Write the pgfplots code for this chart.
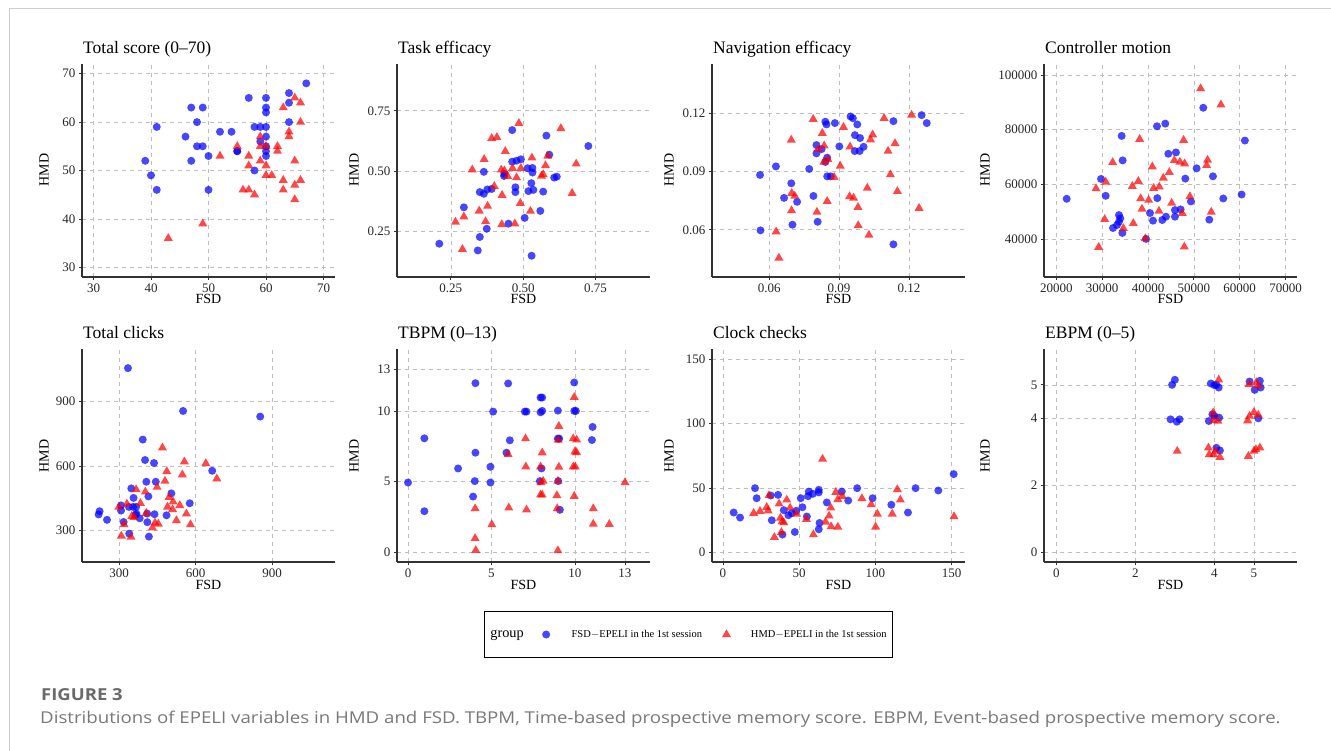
\documentclass[border=0pt]{standalone}
\usepackage{fontspec}
\setmainfont{Liberation Serif}
\newfontfamily\capfont{Open Sans}
\usepackage{pgfplots}
\pgfplotsset{compat=1.18}

\definecolor{axisgray}{RGB}{50,50,50}
\definecolor{gridgray}{RGB}{190,190,190}
\definecolor{framegray}{RGB}{205,205,205}
\definecolor{capgray}{RGB}{105,105,105}
\definecolor{capgraylight}{RGB}{120,120,120}

\pgfplotsset{
  panel/.style={
    scale only axis, width=253pt, height=213pt, anchor=south west,
    axis lines*=left,
    axis line style={line width=1.3pt, axisgray},
    tick align=outside, major tick length=3pt,
    tick style={line width=0.8pt, axisgray},
    grid=major,
    major grid style={dash pattern=on 4pt off 4pt, line width=0.6pt, gridgray},
    tick label style={font=\fontsize{13}{13}\selectfont, text=black!85},
    /pgf/number format/assume math mode=true,
    /pgf/number format/fixed,
    /pgf/number format/1000 sep={},
    scaled ticks=false,
  },
  dec2/.style={
    xticklabel style={/pgf/number format/.cd, fixed, fixed zerofill, precision=2},
    yticklabel style={/pgf/number format/.cd, fixed, fixed zerofill, precision=2},
  },
  fsd/.style={only marks, blue, mark=*, mark size=4pt,
    mark options={draw=blue, draw opacity=0, fill=blue, fill opacity=0.72},
    legend image code/.code={\path (0pt,0pt) (35pt,0pt);
      \draw[mark repeat=2,mark phase=2,##1] plot coordinates {(0pt,0pt) (12pt,0pt) (24pt,0pt)};}},
  hmd/.style={only marks, red, mark=triangle*, mark size=5.2pt,
    mark options={draw=red, draw opacity=0, fill=red, fill opacity=0.72},
    legend image code/.code={\path (0pt,0pt) (36pt,0pt);
      \draw[mark repeat=2,mark phase=2,##1] plot coordinates {(0pt,0pt) (14pt,0pt) (28pt,0pt)};}},
}

\begin{document}
\begin{tikzpicture}
\useasboundingbox (0pt,0pt) rectangle (1331pt,-751pt);
\draw[framegray, line width=0.8pt] (9pt,-751pt) -- (9pt,-8pt) -- (1331pt,-8pt);

% ---------- row 1 ----------
\begin{axis}[panel, at={(82pt,-277pt)},
  xmin=28, xmax=72, ymin=28, ymax=72,
  xtick={30,40,50,60,70}, ytick={30,40,50,60,70}]
\addplot[fsd] coordinates {
(39,52) (40,49) (41,59) (41,46) (46,57) (47,63) (47,52) (48,60) (48,55)
(49,63) (49,55) (50,53) (50,46) (52,58) (54,58) (55,54) (55,54) (57,65)
(58,59) (58,50) (59,59) (59,56) (60,65) (60,63) (60,62) (60,59) (60,57)
(60,55) (60,54) (60,53) (64,66) (64,64) (64,60) (67,68)};
\addplot[hmd] coordinates {
(43,36) (49,39) (52,53) (55,55) (56,46) (57,46) (57,53) (57,51) (58,45)
(59,57) (59,55) (59,52) (60,55) (60,51) (60,49) (61,49) (62,55) (62,54)
(63,63) (63,48) (63,46) (64,58) (64,57) (65,65) (65,52) (65,47) (65,44)
(66,64) (66,60) (66,48)};
\end{axis}

\begin{axis}[panel, dec2, at={(397pt,-277pt)},
  xmin=0.064, xmax=0.938, ymin=0.061, ymax=0.944,
  xtick={0.25,0.5,0.75}, ytick={0.25,0.5,0.75}]
\addplot[fsd] coordinates {
(0.210,0.199) (0.295,0.350) (0.364,0.497) (0.350,0.227) (0.374,0.261)
(0.343,0.171) (0.350,0.413) (0.364,0.406) (0.376,0.424) (0.391,0.426)
(0.434,0.480) (0.435,0.488) (0.462,0.670) (0.462,0.539) (0.477,0.543)
(0.492,0.549) (0.473,0.433) (0.473,0.413) (0.449,0.282) (0.505,0.306)
(0.515,0.512) (0.532,0.513) (0.532,0.494) (0.528,0.450) (0.518,0.417)
(0.535,0.422) (0.529,0.149) (0.559,0.335) (0.569,0.415) (0.590,0.568)
(0.580,0.647) (0.607,0.473) (0.616,0.477) (0.725,0.604)};
\addplot[hmd] coordinates {
(0.485,0.698) (0.630,0.677) (0.409,0.640) (0.391,0.636) (0.438,0.582)
(0.365,0.549) (0.324,0.506) (0.424,0.505) (0.435,0.502) (0.463,0.512)
(0.492,0.512) (0.530,0.555) (0.446,0.479) (0.477,0.473) (0.563,0.480)
(0.569,0.486) (0.577,0.523) (0.585,0.563) (0.683,0.530) (0.669,0.408)
(0.400,0.437) (0.427,0.400) (0.377,0.355) (0.348,0.335) (0.490,0.367)
(0.525,0.334) (0.370,0.291) (0.295,0.311) (0.266,0.289) (0.290,0.176)
(0.426,0.279) (0.471,0.282)};
\end{axis}

\begin{axis}[panel, dec2, at={(712pt,-277pt)},
  xmin=0.0355, xmax=0.144, ymin=0.0357, ymax=0.1453,
  xtick={0.06,0.09,0.12}, ytick={0.06,0.09,0.12}]
\addplot[fsd] coordinates {
(0.0561,0.0882) (0.0563,0.0597) (0.0629,0.0926) (0.0664,0.0764) (0.0695,0.0839)
(0.0700,0.0626) (0.0720,0.0744) (0.0772,0.0913) (0.0790,0.0774) (0.0808,0.0641)
(0.0803,0.1036) (0.0803,0.0993) (0.0825,0.1015) (0.0841,0.1156) (0.0846,0.1142)
(0.0882,0.1149) (0.0849,0.0971) (0.0841,0.0949) (0.0849,0.0875) (0.0864,0.0875)
(0.0901,0.1029) (0.0949,0.1183) (0.0959,0.1174) (0.0978,0.1142) (0.0968,0.1087)
(0.0990,0.1072) (0.0967,0.1005) (0.0988,0.1005) (0.1005,0.1027) (0.1133,0.1159)
(0.1254,0.1190) (0.1276,0.1149) (0.1133,0.0525)};
\addplot[hmd] coordinates {
(0.0789,0.1169) (0.0695,0.1062) (0.0630,0.0590) (0.0642,0.0455) (0.0697,0.0788)
(0.0710,0.0774) (0.0696,0.0699) (0.0805,0.0691) (0.0849,0.0747) (0.0828,0.1097)
(0.0836,0.1032) (0.0809,0.1014) (0.0835,0.0949) (0.0852,0.0962) (0.0879,0.0870)
(0.0905,0.0928) (0.0919,0.1128) (0.0947,0.1027) (0.0945,0.0771) (0.0962,0.0764)
(0.0981,0.0716) (0.0982,0.0622) (0.1028,0.0573) (0.1021,0.0815) (0.1035,0.1063)
(0.1044,0.1089) (0.1093,0.1174) (0.1110,0.1005) (0.1120,0.0884) (0.1140,0.1044)
(0.1150,0.0798) (0.1211,0.1190) (0.1243,0.0711)};
\end{axis}

\begin{axis}[panel, at={(1044pt,-277pt)},
  xmin=17300, xmax=72500, ymin=26200, ymax=104000,
  xtick={20000,30000,40000,50000,60000,70000}, ytick={40000,60000,80000,100000}]
\addplot[fsd] coordinates {
(22250,54760) (29740,62020) (30760,55850) (34240,77740) (34460,68790)
(33660,48830) (33950,47620) (33660,46410) (33230,45200) (32350,44090)
(34390,42300) (39550,40120) (40420,49560) (41080,46780) (42020,55000)
(41950,81250) (43760,82220) (44420,71210) (46090,71700) (43110,47020)
(43910,48230) (45870,50650) (45870,48230) (47110,50890) (48130,62140)
(49360,53790) (50600,65890) (52050,88020) (53360,47140) (54160,62980)
(56410,54880) (60410,56330) (61130,76050)};
\addplot[hmd] coordinates {
(51470,95040) (55900,89110) (38170,76530) (47760,76170) (32280,68070)
(28650,58510) (30760,60930) (30540,47260) (29230,37100) (34610,43990)
(36790,45810) (36570,59360) (37880,61170) (38390,54880) (38680,51010)
(40130,54280) (39400,40240) (40930,66490) (41220,58630) (42460,59120)
(42380,50290) (43330,62380) (44640,64440) (45730,68790) (45150,53190)
(46960,68190) (47980,67580) (47470,49440) (47910,37220) (49140,55610)
(52990,68910) (52780,66980) (53790,49920)};
\end{axis}

% ---------- row 2 ----------
\begin{axis}[panel, at={(82pt,-562pt)},
  xmin=155, xmax=1146, ymin=154, ymax=1144,
  xtick={300,600,900}, ytick={300,600,900}]
\addplot[fsd] coordinates {
(335,1055) (551,856) (853,830) (393,723) (402,628) (437,614) (665,578)
(444,527) (407,527) (348,496) (505,473) (415,459) (357,452) (577,427)
(308,417) (339,410) (355,410) (367,410) (224,390) (308,393) (220,375)
(253,350) (368,379) (381,357) (365,373) (410,379) (439,376) (486,371)
(411,339) (318,340) (340,286) (417,272)};
\addplot[hmd] coordinates {
(470,685) (556,620) (640,612) (683,541) (487,575) (548,560) (480,530)
(367,491) (403,480) (449,502) (496,455) (512,434) (538,417) (490,410)
(510,398) (331,424) (299,409) (384,427) (359,362) (350,367) (407,381)
(525,347) (564,378) (580,328) (441,336) (454,331) (431,313) (320,328)
(309,275) (347,270)};
\end{axis}

\begin{axis}[panel, at={(397pt,-562pt)},
  xmin=-0.66, xmax=14.5, ymin=-0.71, ymax=14.43,
  xtick={0,5,10,13}, ytick={0,5,10,13}]
\addplot[fsd] coordinates {
(0,4.94) (0.98,8.08) (0.98,2.90) (3.0,5.94) (4.04,12.0) (4.04,7.06)
(4.0,5.04) (3.9,3.94) (4.94,6.06) (4.94,4.94) (5.1,9.98) (6.0,11.98)
(6.1,7.94) (5.9,7.06) (7.0,9.98) (7.1,9.98) (7.94,10.98) (8.04,10.98)
(7.94,9.93) (8.04,10.03) (8.0,5.94) (7.9,5.04) (8.98,10.05) (8.98,8.06)
(9.06,8.06) (9.0,5.04) (9.1,3.0) (9.96,12.05) (9.96,10.03) (10.06,10.03)
(11.06,8.89) (11.02,7.96)};
\addplot[hmd] coordinates {
(4.02,3.09) (4.02,0.97) (4.06,0.12) (5.02,1.95) (6.0,6.94) (6.04,3.14)
(7.04,8.06) (7.06,6.06) (7.1,3.0) (7.94,6.06) (8.04,7.06) (7.94,4.06)
(8.04,4.06) (8.1,5.04) (7.96,4.94) (8.92,4.02) (8.98,5.04) (9.04,8.94)
(9.0,7.96) (9.04,6.04) (8.94,3.09) (8.98,0.1) (9.96,11.0) (9.9,8.06)
(10.1,7.98) (10.0,7.13) (10.1,7.08) (9.9,6.06) (10.02,6.06) (9.96,3.97)
(11.1,3.09) (11.1,1.99) (12.06,1.97) (13.0,4.94)};
\end{axis}

\begin{axis}[panel, at={(712pt,-562pt)},
  xmin=-7.2, xmax=158.7, ymin=-7.5, ymax=157.8,
  xtick={0,50,100,150}, ytick={0,50,100,150},
  legend columns=3,
  legend cell align=left,
  legend style={at={(-0.0929,-0.3404)}, anchor=center, draw=black,
    line width=0.9pt, fill=white, inner xsep=4pt, inner ysep=17pt,
    font=\fontsize{10.5}{12}\selectfont,
    /tikz/every even column/.append style={column sep=8pt}}]
\addlegendimage{empty legend}
\addlegendentry{\fontsize{14.3}{15}\selectfont group}
\addplot[fsd] coordinates {
(7.0,30.9) (11.2,27.0) (21.0,49.8) (22.1,42.0) (31.3,44.1) (32.0,24.9)
(36.1,44.6) (39.9,32.7) (39.0,13.8) (42.9,28.8) (45.1,30.4) (48.0,32.2)
(51.0,42.0) (52.1,35.0) (47.1,15.8) (55.0,27.8) (56.3,47.2) (55.8,43.6)
(58.9,45.4) (62.8,48.5) (62.8,46.5) (63.3,22.8) (62.8,17.9) (68.1,38.7)
(77.9,47.2) (82.1,40.2) (88.0,49.8) (98.1,42.0) (110.4,36.9) (121.3,30.9)
(126.3,49.8) (141.2,48.0) (151.3,60.7)};
\addlegendentry{FSD$-$EPELI in the 1st session}
\addplot[hmd] coordinates {
(65.3,72.4) (20.1,30.4) (24.3,31.9) (28.7,35.0) (29.6,32.2) (30.2,44.1)
(36.8,37.6) (41.8,40.7) (37.7,26.7) (38.8,23.9) (39.9,23.1) (38.3,15.6)
(33.7,11.7) (44.0,34.5) (48.2,29.8) (54.7,25.7) (59.3,13.8) (67.2,23.6)
(69.6,28.3) (70.7,34.5) (70.9,20.0) (75.3,19.7) (74.0,46.7) (75.3,41.0)
(78.2,43.6) (91.1,41.8) (97.2,37.1) (101.2,29.8) (100.1,19.7) (111.0,29.8)
(114.3,48.8) (116.3,40.7) (151.5,27.8)};
\addlegendentry{HMD$-$EPELI in the 1st session}
\end{axis}

\begin{axis}[panel, at={(1044pt,-562pt)},
  xmin=-0.31, xmax=6.09, ymin=-0.29, ymax=6.07,
  xtick={0,2,4,5}, ytick={0,2,4,5}]
\addplot[fsd] coordinates {
(2.93,5.0) (3.0,5.15) (2.89,3.97) (3.05,3.90) (3.12,3.97) (3.91,5.04)
(4.0,4.99) (4.05,5.0) (4.11,4.92) (3.86,3.92) (3.95,4.12) (4.0,4.07)
(4.12,4.02) (4.05,3.12) (4.14,3.04) (4.89,5.10) (5.02,4.85) (5.15,5.12)
(5.17,4.92) (5.11,4.0)};
\addplot[hmd] coordinates {
(4.11,5.15) (3.06,3.02) (3.85,3.12) (3.87,2.92) (3.98,2.92) (4.03,3.02)
(4.14,2.84) (3.97,4.17) (3.97,3.94) (4.09,3.92) (4.84,3.93) (4.89,4.07)
(5.0,4.18) (5.11,4.10) (4.88,5.02) (5.06,5.07) (5.11,4.97) (4.86,2.87)
(5.0,3.02) (5.05,3.07) (5.15,3.12)};
\end{axis}

% ---------- titles and axis labels ----------
\begin{scope}[every node/.style={inner sep=0pt}]
\foreach \x/\t in {83/{Total score (0--70)}, 398/{Task efficacy}, 713/{Navigation efficacy}, 1045/{Controller motion}}
  \node[anchor=base west, font=\fontsize{17.5}{18}\selectfont] at (\x pt,-54pt) {\t};
\foreach \x/\t in {83/{Total clicks}, 398/{TBPM (0--13)}, 713/{Clock checks}, 1045/{EBPM (0--5)}}
  \node[anchor=base west, font=\fontsize{17.5}{18}\selectfont] at (\x pt,-339pt) {\t};
\foreach \x in {208.5,523.5,838.5,1170.5} {
  \node[anchor=base, font=\fontsize{14}{14}\selectfont] at (\x pt,-304pt) {FSD};
  \node[anchor=base, font=\fontsize{14}{14}\selectfont] at (\x pt,-589pt) {FSD};
}
\foreach \x in {44,354,669,985} {
  \node[rotate=90, anchor=center, font=\fontsize{14}{14}\selectfont] at (\x pt,-170pt) {HMD};
  \node[rotate=90, anchor=center, font=\fontsize{14}{14}\selectfont] at (\x pt,-456pt) {HMD};
}
\node[anchor=base west, font=\fontsize{16.5}{18}\capfont\bfseries, text=capgray] at (41pt,-700pt)
  {\scalebox{1.12}[1]{FIGURE 3}};
\node[anchor=base west, font=\fontsize{16.3}{18}\capfont, text=capgraylight] at (40pt,-723pt)
  {\scalebox{1.145}[1]{Distributions of EPELI variables in HMD and FSD. TBPM, Time-based prospective memory score. EBPM, Event-based prospective memory score.}};
\end{scope}
\end{tikzpicture}
\end{document}
